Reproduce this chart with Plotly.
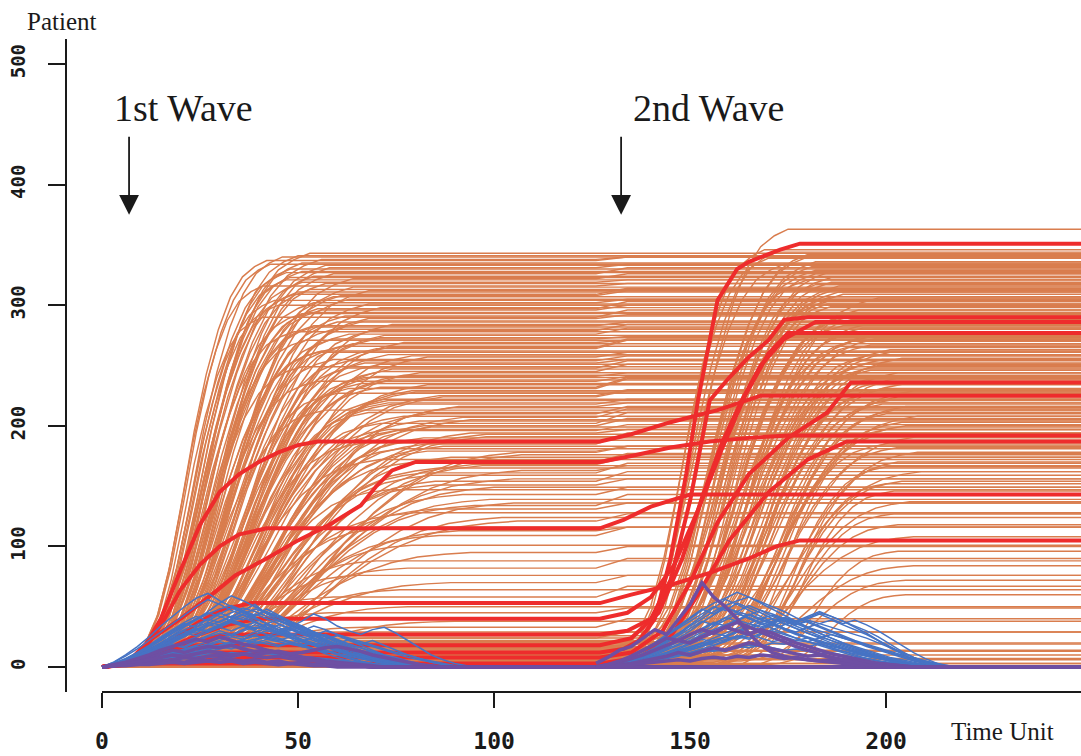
import plotly.graph_objects as go

# ---------------------------------------------------------------- colours
ORANGE = "#D97D4E"
RED = "#EE2C2C"
BLUE = "#4673C4"
PURPLE = "#6E4FA3"
INK = "#1a1a1a"

# shared cumulative rise profile (fraction of final size at evenly spaced steps)
RISE_SHAPE = [0.0, 0.02, 0.06, 0.13, 0.25, 0.41, 0.58, 0.72, 0.83, 0.91, 0.96, 0.985, 1.0]

# ---------------------------------------------------------------- first-wave cumulative runs
W1_PLATEAU = [343, 340, 338, 335, 334, 331, 328, 327, 324, 322, 321, 318, 316, 313, 312, 309, 307, 305, 302, 300,
              298, 296, 293, 291, 290, 287, 284, 283, 280, 278, 276, 273, 271, 269, 266, 264, 262, 259, 257, 255,
              252, 249, 247, 245, 242, 240, 237, 234, 232, 229, 227, 224, 221, 219, 216, 213, 210, 208, 205, 202,
              199, 196, 193, 190, 186, 183, 179, 176, 172, 168, 165, 161, 156, 151, 147, 139, 134, 128, 121, 116,
              109, 101, 95, 88, 82, 76, 70, 64, 58, 50, 45, 38, 33, 29, 24, 20, 16, 13, 10, 8, 6, 4, 3, 2,
              341, 337, 333, 330, 326, 323, 319, 315, 311, 308, 304, 301, 297, 294, 289, 286, 282, 279, 275, 272,
              268, 265, 261, 258, 254, 251, 248, 244, 241, 238, 235, 231, 228, 225, 222, 218, 215, 211, 207, 204,
              200, 197, 194, 191, 188, 185, 181, 178, 174, 170, 167, 163, 159, 154, 149, 143, 136, 131, 124, 113]
W1_START = [5, 6, 4, 7, 5, 8, 6, 5, 7, 9, 6, 8, 5, 7, 10, 6, 8, 9, 7, 6,
            11, 8, 7, 9, 6, 10, 12, 8, 9, 7, 8, 10, 7, 11, 9, 12, 8, 10, 13, 9,
            11, 7, 10, 12, 9, 14, 8, 11, 10, 13, 9, 12, 15, 10, 11, 8, 13, 12, 10, 14,
            11, 13, 10, 15, 12, 9, 14, 16, 11, 13, 12, 17, 10, 14, 15, 13, 18, 12, 16, 11,
            14, 19, 13, 15, 12, 15, 14, 18, 11, 16, 13, 20, 15, 17, 12, 22, 14, 18, 16, 25, 20, 15, 30, 22,
            6, 5, 8, 7, 6, 9, 5, 8, 7, 10, 6, 9, 8, 11, 7, 10, 9, 12, 8, 11,
            10, 13, 9, 12, 11, 8, 14, 10, 13, 9, 12, 15, 11, 10, 14, 12, 16, 13, 11, 15,
            12, 14, 17, 13, 16, 11, 15, 18, 14, 12, 17, 15, 13, 19, 16, 14, 18, 15, 20, 17]
W1_SPAN = [48, 40, 52, 44, 38, 50, 45, 42, 47, 55, 41, 49, 36, 46, 58, 43, 51, 54, 47, 39,
           60, 48, 44, 53, 35, 57, 62, 46, 50, 42, 55, 61, 45, 66, 52, 58, 48, 63, 70, 50,
           56, 44, 64, 59, 68, 53, 47, 72, 61, 66, 51, 75, 58, 63, 80, 49, 70, 65, 84, 57,
           73, 62, 88, 67, 55, 78, 69, 91, 60, 82, 74, 65, 95, 71, 58, 86, 77, 68, 90, 63,
           72, 60, 81, 55, 66, 50, 75, 58, 48, 62, 45, 70, 52, 40, 56, 38, 47, 35, 42, 30, 36, 28, 32, 25,
           44, 37, 49, 41, 53, 39, 46, 56, 43, 51, 38, 59, 47, 42, 61, 50, 45, 57, 64, 48,
           54, 60, 46, 67, 52, 63, 49, 71, 57, 65, 54, 48, 69, 76, 58, 62, 73, 55, 81, 66,
           70, 59, 77, 85, 64, 72, 61, 88, 75, 68, 80, 92, 71, 66, 84, 78, 87, 70, 82, 74]
W1_LIFT = [0, 0, 2, 0, 0, 3, 0, 0, 0, 4, 0, 0, 2, 0, 0, 5, 0, 0, 3, 0,
           0, 4, 0, 0, 6, 0, 0, 3, 0, 0, 5, 0, 0, 2, 0, 7, 0, 0, 4, 0,
           3, 0, 0, 6, 0, 0, 4, 0, 8, 0, 0, 5, 0, 0, 3, 0, 6, 0, 0, 9,
           0, 5, 0, 0, 7, 0, 4, 0, 0, 6, 0, 8, 0, 5, 0, 0, 9, 0, 6, 0,
           7, 0, 5, 0, 8, 0, 6, 0, 9, 0, 4, 0, 7, 0, 5, 0, 3, 0, 4, 2, 0, 3, 0, 1,
           0, 3, 0, 0, 5, 0, 2, 0, 0, 4, 0, 0, 6, 0, 3, 0, 0, 5, 0, 2,
           0, 7, 0, 0, 4, 0, 6, 0, 3, 0, 0, 8, 0, 5, 0, 4, 0, 0, 7, 0,
           6, 0, 3, 0, 0, 9, 0, 5, 0, 7, 0, 4, 0, 8, 0, 6, 0, 5, 0, 3]

# ---------------------------------------------------------------- second-wave cumulative runs
W2_FINAL = [363, 346, 342, 339, 336, 332, 329, 326, 323, 319, 316, 313, 309, 306,
            303, 299, 296, 292, 288, 285, 281, 278, 274, 270, 267, 263, 259, 255,
            252, 248, 244, 239, 235, 231, 227, 222, 218, 213, 208, 203, 197, 191,
            185, 178, 170, 162, 154, 146, 137, 127, 118, 108, 96, 84, 72, 60,
            344, 340, 334, 328, 321, 317, 311, 307, 301, 294, 290, 283, 276, 272, 265,
            261, 256, 250, 246, 241, 236, 229, 224, 216, 210, 200, 194, 182, 166, 152]
W2_BASE = [2, 5, 0, 8, 3, 12, 1, 6, 4, 15, 2, 9, 0, 7,
           18, 3, 5, 11, 1, 4, 22, 6, 2, 9, 14, 0, 5, 3,
           8, 26, 1, 10, 4, 2, 17, 6, 0, 12, 3, 7, 20, 1,
           5, 9, 2, 13, 4, 0, 6, 24, 3, 8, 1, 15, 5, 2,
           4, 0, 7, 2, 10, 1, 5, 13, 0, 3, 8, 19, 2, 6, 0,
           11, 4, 1, 16, 3, 7, 0, 9, 2, 5, 21, 1, 6, 3, 10]
W2_START = [133, 131, 135, 130, 134, 137, 132, 136, 134, 139, 133, 138, 136, 140,
            135, 141, 137, 139, 143, 136, 140, 142, 138, 145, 141, 139, 144, 142,
            140, 146, 143, 148, 141, 145, 150, 144, 147, 152, 146, 149, 155, 148,
            150, 153, 158, 151, 156, 160, 154, 162, 157, 152, 165, 159, 163, 170,
            132, 134, 131, 136, 133, 138, 135, 137, 140, 136, 139, 141, 138, 143, 140,
            144, 142, 146, 141, 145, 148, 143, 150, 147, 152, 149, 155, 151, 158, 160]
W2_SPAN = [42, 38, 45, 40, 48, 44, 50, 46, 52, 47, 55, 49, 53, 58,
           50, 45, 56, 52, 48, 60, 54, 50, 58, 46, 55, 62, 52, 57,
           56, 50, 60, 48, 64, 54, 46, 58, 52, 50, 62, 55, 45, 60,
           50, 55, 45, 58, 48, 42, 52, 40, 46, 55, 38, 48, 42, 35,
           40, 46, 43, 50, 47, 44, 53, 49, 45, 56, 51, 48, 59, 54, 50,
           57, 62, 52, 55, 60, 50, 64, 53, 58, 48, 56, 45, 52, 42, 40]

# ---------------------------------------------------------------- highlighted cumulative runs (knots)
RED_T = [
    [0, 5, 10, 15, 20, 25, 30, 35, 40, 45, 50, 55, 127, 135, 145, 150, 157, 168, 250],
    [0, 6, 12, 20, 28, 34, 42, 50, 58, 66, 70, 74, 80, 127, 135, 145, 155, 165, 175, 250],
    [0, 6, 12, 16, 20, 25, 30, 35, 42, 127, 133, 140, 150, 250],
    [0, 6, 12, 18, 24, 30, 38, 127, 135, 145, 155, 165, 172, 178, 250],
    [0, 8, 15, 25, 127, 133, 137, 141, 145, 149, 152, 157, 162, 165, 173, 178, 250],
    [0, 8, 16, 24, 32, 127, 134, 140, 145, 150, 155, 160, 165, 170, 174, 180, 250],
    [0, 8, 16, 24, 127, 135, 142, 148, 153, 158, 163, 168, 174, 182, 250],
    [0, 8, 16, 24, 32, 40, 127, 134, 140, 146, 152, 158, 164, 170, 175, 250],
    [0, 10, 20, 127, 135, 143, 150, 157, 165, 175, 185, 191, 250],
    [0, 10, 127, 137, 145, 152, 160, 170, 180, 190, 250],
]
RED_V = [
    [0, 2, 12, 40, 80, 118, 145, 160, 170, 178, 184, 187, 187, 193, 203, 207, 213, 225, 225],
    [0, 2, 22, 40, 60, 76, 90, 105, 118, 134, 150, 163, 170, 170, 175, 182, 187, 190, 192, 192],
    [0, 3, 20, 40, 64, 85, 100, 110, 115, 115, 122, 133, 143, 143],
    [0, 2, 10, 22, 36, 47, 53, 53, 60, 68, 78, 90, 100, 105, 105],
    [0, 3, 8, 12, 12, 15, 22, 40, 90, 160, 221, 304, 330, 336, 346, 351, 351],
    [0, 4, 12, 22, 27, 27, 30, 40, 72, 138, 221, 240, 257, 271, 288, 290, 290],
    [0, 4, 12, 18, 18, 24, 45, 90, 140, 185, 220, 250, 272, 286, 286],
    [0, 5, 14, 26, 35, 40, 40, 45, 58, 85, 130, 180, 225, 260, 277, 277],
    [0, 4, 8, 8, 12, 30, 70, 120, 160, 190, 211, 236, 236],
    [0, 3, 3, 8, 25, 60, 105, 145, 172, 187, 187],
]

# ---------------------------------------------------------------- active cases, sampled every 3 time units
STEP = 3
BLUE_W1 = [
    [0, 3, 6, 11, 17, 24, 30, 36, 33, 40, 45, 41, 47, 52, 44, 39, 35, 30, 26, 21, 16, 12, 8, 5, 3, 1, 0],
    [0, 2, 5, 8, 13, 18, 22, 27, 31, 29, 34, 38, 35, 31, 36, 33, 28, 25, 22, 18, 15, 12, 9, 6, 4, 2, 1, 0],
    [0, 1, 3, 6, 9, 13, 17, 21, 25, 29, 33, 30, 34, 37, 33, 29, 31, 27, 24, 20, 17, 14, 11, 13, 9, 6, 4, 2, 1, 0],
    [0, 4, 9, 15, 22, 29, 36, 43, 50, 56, 52, 47, 43, 38, 33, 28, 24, 19, 15, 11, 8, 5, 3, 1, 0],
    [0, 2, 4, 7, 10, 14, 18, 16, 21, 25, 28, 26, 30, 33, 31, 35, 32, 28, 25, 27, 23, 19, 16, 12, 9, 7, 4, 2, 1, 0],
    [0, 3, 7, 12, 18, 25, 31, 37, 42, 38, 44, 49, 45, 40, 36, 31, 33, 28, 23, 19, 15, 11, 8, 5, 3, 1, 0],
    [0, 1, 2, 4, 7, 10, 13, 12, 16, 19, 22, 25, 23, 27, 30, 28, 32, 29, 26, 30, 27, 24, 21, 18, 15, 12, 10, 7, 5, 3, 1, 0],
    [0, 2, 6, 10, 15, 20, 26, 31, 35, 40, 37, 42, 46, 42, 48, 43, 38, 34, 29, 25, 20, 16, 12, 9, 6, 3, 1, 0],
    [0, 1, 3, 5, 8, 11, 9, 12, 15, 18, 21, 19, 23, 26, 24, 22, 25, 21, 18, 15, 17, 14, 11, 8, 6, 4, 2, 1, 0],
    [0, 2, 5, 9, 14, 20, 26, 33, 39, 46, 53, 59, 55, 50, 45, 41, 36, 31, 27, 22, 18, 14, 10, 7, 4, 2, 0],
    [0, 1, 3, 5, 8, 7, 10, 13, 11, 14, 17, 15, 18, 21, 19, 17, 20, 18, 15, 13, 11, 14, 12, 9, 7, 5, 3, 1, 0],
    [0, 3, 6, 10, 14, 19, 24, 28, 33, 37, 35, 39, 36, 32, 35, 30, 27, 23, 20, 17, 13, 10, 7, 5, 3, 2, 1, 0],
    [0, 1, 2, 4, 6, 9, 12, 15, 18, 21, 24, 27, 25, 29, 32, 29, 26, 30, 34, 31, 27, 23, 19, 22, 18, 14, 10, 7, 4, 2, 1, 0],
    [0, 2, 4, 7, 11, 16, 21, 26, 31, 36, 41, 45, 49, 46, 42, 38, 34, 30, 26, 22, 18, 14, 11, 8, 5, 3, 1, 0],
    [0, 1, 2, 3, 5, 7, 9, 11, 10, 13, 15, 17, 16, 19, 21, 18, 20, 17, 15, 12, 14, 11, 9, 7, 5, 3, 2, 1, 0],
    [0, 2, 5, 9, 13, 18, 23, 28, 26, 31, 35, 39, 43, 40, 36, 39, 35, 31, 27, 23, 26, 22, 18, 14, 10, 7, 4, 2, 0],
    [0, 4, 10, 17, 25, 34, 42, 50, 57, 61, 55, 50, 46, 41, 36, 31, 27, 22, 18, 14, 10, 7, 4, 2, 1, 0],
    [0, 1, 2, 3, 4, 6, 8, 7, 9, 11, 10, 12, 11, 13, 12, 10, 11, 9, 8, 7, 6, 5, 4, 3, 2, 1, 0],
    [0, 1, 1, 2, 3, 4, 5, 7, 6, 8, 9, 8, 10, 9, 11, 10, 8, 9, 7, 6, 5, 4, 3, 2, 1, 0],
    [0, 2, 3, 5, 7, 9, 12, 14, 17, 15, 18, 20, 22, 20, 23, 21, 19, 17, 15, 13, 11, 9, 7, 5, 4, 3, 2, 1, 0],
    [0, 2, 5, 9, 14, 19, 25, 30, 28, 34, 38, 42, 39, 44, 40, 36, 32, 34, 29, 25, 21, 17, 13, 10, 7, 4, 2, 1, 0],
    [0, 3, 7, 12, 17, 23, 29, 35, 40, 45, 42, 38, 41, 37, 33, 29, 25, 21, 18, 14, 11, 8, 5, 3, 1, 0],
    [0, 1, 3, 6, 10, 14, 19, 17, 22, 26, 30, 27, 31, 35, 32, 28, 30, 33, 29, 25, 22, 19, 16, 13, 10, 8, 5, 3, 1, 0],
    [0, 2, 4, 8, 12, 17, 22, 27, 32, 30, 35, 40, 44, 48, 45, 41, 37, 33, 29, 26, 22, 18, 14, 11, 8, 5, 3, 1, 0],
    [0, 1, 2, 4, 6, 8, 11, 14, 12, 15, 18, 21, 19, 22, 25, 23, 20, 22, 19, 16, 14, 12, 10, 8, 6, 4, 2, 1, 0],
    [0, 2, 6, 11, 16, 22, 28, 34, 39, 44, 48, 51, 47, 43, 46, 42, 37, 32, 28, 23, 19, 15, 11, 8, 5, 3, 1, 0],
    [0, 1, 2, 3, 5, 7, 10, 13, 16, 19, 17, 20, 23, 26, 24, 27, 25, 22, 24, 21, 19, 23, 20, 17, 14, 11, 8, 6, 4, 2, 1, 0],
    [0, 2, 4, 7, 11, 15, 20, 25, 30, 35, 33, 37, 34, 30, 27, 24, 21, 18, 20, 17, 14, 11, 9, 7, 5, 3, 2, 1, 0],
    [0, 1, 2, 3, 5, 7, 9, 11, 13, 15, 17, 19, 21, 23, 26, 29, 33, 38, 44, 40, 34, 30, 27, 31, 33, 28, 22, 16, 10, 6, 3, 1, 0],
]
BLUE_W2_T0 = 126
BLUE_W2 = [
    [0, 1, 3, 6, 10, 15, 21, 27, 34, 40, 46, 51, 55, 58, 54, 50, 46, 41, 37, 33, 29, 25, 21, 17, 14, 11, 8, 5, 3, 1, 0],
    [0, 2, 4, 8, 13, 19, 26, 33, 40, 47, 53, 57, 62, 58, 53, 48, 43, 38, 33, 28, 24, 20, 16, 12, 9, 6, 4, 2, 1, 0],
    [0, 1, 2, 4, 7, 10, 14, 18, 22, 27, 31, 35, 39, 36, 40, 43, 39, 35, 38, 34, 30, 26, 22, 19, 16, 13, 10, 7, 5, 3, 1, 0],
    [0, 1, 2, 3, 5, 7, 9, 12, 15, 18, 22, 25, 29, 32, 35, 38, 41, 37, 40, 44, 40, 36, 39, 35, 30, 24, 18, 12, 7, 3, 0],
    [0, 1, 2, 3, 5, 7, 10, 13, 16, 20, 24, 28, 32, 36, 33, 37, 41, 38, 42, 46, 42, 38, 34, 30, 25, 19, 13, 8, 4, 1, 0],
    [0, 2, 5, 9, 14, 20, 27, 34, 41, 48, 44, 50, 45, 40, 36, 32, 28, 24, 21, 18, 15, 12, 9, 7, 5, 3, 2, 1, 0],
    [0, 1, 2, 4, 6, 9, 12, 15, 19, 23, 21, 25, 29, 27, 31, 28, 25, 22, 24, 21, 18, 15, 12, 10, 8, 6, 4, 2, 1, 0],
    [0, 1, 3, 5, 8, 12, 16, 21, 26, 31, 36, 41, 38, 43, 47, 44, 40, 36, 32, 28, 24, 20, 17, 14, 11, 8, 6, 4, 2, 1, 0],
    [0, 1, 2, 3, 4, 6, 8, 10, 9, 12, 14, 13, 16, 18, 17, 20, 19, 22, 21, 19, 17, 15, 13, 11, 9, 7, 5, 3, 2, 1, 0],
    [0, 2, 4, 7, 11, 16, 22, 28, 35, 42, 49, 56, 52, 47, 42, 37, 32, 28, 24, 20, 16, 13, 10, 7, 5, 3, 1, 0],
    [0, 1, 2, 3, 5, 7, 9, 11, 14, 17, 20, 23, 26, 24, 28, 31, 35, 38, 41, 45, 42, 38, 33, 28, 22, 16, 11, 6, 3, 1, 0],
    [0, 1, 2, 4, 6, 8, 11, 14, 17, 20, 18, 22, 25, 23, 27, 30, 27, 24, 21, 24, 27, 24, 21, 18, 15, 12, 9, 6, 4, 2, 1, 0],
    [0, 1, 3, 6, 9, 13, 17, 22, 27, 32, 37, 34, 39, 44, 40, 36, 32, 28, 25, 22, 19, 16, 13, 10, 8, 6, 4, 2, 1, 0],
    [0, 1, 2, 3, 5, 6, 8, 10, 12, 14, 13, 15, 17, 16, 18, 16, 14, 15, 13, 11, 12, 10, 8, 7, 5, 4, 3, 2, 1, 0],
    [0, 1, 3, 5, 9, 13, 18, 24, 30, 37, 43, 49, 46, 51, 47, 42, 38, 34, 30, 26, 22, 18, 15, 12, 9, 6, 4, 2, 1, 0],
    [0, 2, 4, 7, 11, 15, 20, 26, 32, 38, 35, 41, 46, 43, 39, 35, 31, 27, 24, 21, 18, 15, 12, 9, 7, 5, 3, 1, 0],
    [0, 1, 2, 4, 6, 9, 12, 16, 20, 24, 28, 26, 30, 34, 31, 35, 32, 29, 33, 30, 27, 24, 21, 18, 15, 12, 9, 6, 3, 1, 0],
    [0, 1, 2, 3, 4, 6, 8, 11, 14, 17, 21, 25, 29, 33, 37, 34, 38, 35, 39, 36, 33, 30, 27, 24, 20, 16, 12, 8, 5, 2, 0],
    [0, 2, 5, 9, 14, 20, 26, 32, 38, 44, 50, 47, 53, 49, 45, 40, 36, 32, 28, 24, 20, 17, 14, 11, 8, 5, 3, 1, 0],
    [0, 1, 2, 4, 6, 8, 10, 13, 16, 19, 22, 25, 23, 27, 24, 21, 23, 20, 17, 19, 16, 13, 11, 9, 7, 5, 3, 2, 1, 0],
    [0, 1, 3, 5, 8, 11, 15, 19, 24, 29, 34, 39, 44, 41, 37, 40, 36, 32, 28, 25, 22, 19, 16, 13, 10, 7, 5, 3, 1, 0],
    [0, 1, 1, 2, 3, 5, 7, 9, 12, 15, 18, 21, 25, 28, 32, 36, 40, 37, 33, 36, 39, 35, 31, 27, 22, 17, 12, 8, 4, 2, 0],
]
PURPLE_W1 = [
    [0, 1, 3, 5, 8, 11, 14, 12, 15, 17, 16, 18, 15, 13, 14, 12, 10, 8, 7, 5, 4, 3, 2, 1, 0],
    [0, 2, 4, 7, 10, 14, 17, 20, 23, 21, 25, 22, 19, 17, 14, 12, 10, 8, 6, 4, 3, 2, 1, 0],
    [0, 1, 2, 3, 4, 5, 6, 8, 7, 9, 10, 9, 11, 10, 12, 13, 11, 12, 14, 16, 17, 15, 13, 10, 8, 6, 4, 2, 1, 0],
    [0, 1, 2, 2, 3, 4, 5, 4, 6, 5, 7, 6, 5, 6, 4, 5, 3, 4, 2, 3, 1, 2, 1, 0],
    [0, 1, 3, 4, 6, 8, 10, 9, 11, 13, 12, 10, 11, 9, 8, 9, 7, 6, 5, 4, 3, 2, 1, 0],
    [0, 1, 1, 2, 2, 3, 4, 3, 4, 5, 4, 5, 3, 4, 3, 2, 3, 2, 1, 1, 0],
]
PURPLE_W2 = [
    [3, 8, 14, 17, 24, 31, 27, 39, 52, 70, 58, 50, 40, 28, 18, 12, 9, 7, 6, 5, 6, 4, 3, 2, 0],
    [0, 2, 4, 7, 10, 14, 18, 22, 20, 25, 29, 33, 30, 27, 31, 28, 24, 20, 17, 14, 11, 9, 7, 5, 3, 2, 1, 0],
    [0, 1, 2, 3, 5, 7, 9, 12, 10, 13, 16, 14, 17, 20, 18, 15, 13, 11, 9, 10, 8, 6, 5, 4, 3, 2, 1, 0],
    [0, 1, 1, 2, 3, 4, 5, 6, 5, 7, 8, 7, 9, 8, 10, 9, 7, 8, 6, 5, 4, 3, 2, 1, 0],
    [0, 2, 5, 9, 14, 19, 24, 22, 27, 31, 28, 33, 37, 33, 29, 25, 21, 17, 14, 11, 8, 6, 4, 2, 1, 0],
]

T_END = 250
X_TICKS = [0, 50, 100, 150, 200]
Y_TICKS = [0, 100, 200, 300, 400, 500]


def rise(t0, span, lo, hi):
    n = len(RISE_SHAPE) - 1
    ts = [t0 + span * i / n for i in range(n + 1)]
    vs = [lo + (hi - lo) * f for f in RISE_SHAPE]
    return ts, vs


def bundle(paths):
    xs, ys = [], []
    for tx, vy in paths:
        xs += list(tx) + [None]
        ys += list(vy) + [None]
    return xs, ys


orange_paths = []
for p, t0, sp, lift in zip(W1_PLATEAU, W1_START, W1_SPAN, W1_LIFT):
    ts, vs = rise(t0, sp, 0, p)
    ts = [0] + ts + [126, 130, 134, T_END]
    vs = [0] + vs + [p, p + lift * 0.5, p + lift, p + lift]
    orange_paths.append((ts, vs))
for fin, base, t0, sp in zip(W2_FINAL, W2_BASE, W2_START, W2_SPAN):
    ta, va = rise(6, 36, 0, base)
    tb, vb = rise(t0, sp, base, fin)
    orange_paths.append(([0] + ta + tb + [T_END], [0] + va + vb + [fin]))

red_paths = list(zip(RED_T, RED_V))


def active(series_list, t0):
    out = []
    for s in series_list:
        ts = [t0 + STEP * i for i in range(len(s))]
        out.append((ts + [T_END], list(s) + [0]))
    return out


blue_paths = active(BLUE_W1, 0) + active(BLUE_W2, BLUE_W2_T0)
purple_paths = active(PURPLE_W1, 0) + active(PURPLE_W2, BLUE_W2_T0)

fig = go.Figure()
for paths, color, width in [(orange_paths, ORANGE, 1.45), (red_paths, RED, 4.0),
                            (blue_paths, BLUE, 1.5), (purple_paths, PURPLE, 3.5)]:
    bx, by = bundle(paths)
    fig.add_trace(go.Scatter(x=bx, y=by, mode="lines", line=dict(color=color, width=width),
                             hoverinfo="skip", showlegend=False))

W, H = 1081, 756
ML, MR, MT, MB = 67, 0, 39, 64

mono = dict(family="DejaVu Sans Mono", color=INK, weight="bold")
serif = "Liberation Serif, Times New Roman, serif"

fig.update_layout(
    width=W, height=H,
    margin=dict(l=ML, r=MR, t=MT, b=MB),
    paper_bgcolor="white", plot_bgcolor="white",
    showlegend=False,
    xaxis=dict(range=[-8.93, 249.7], tickvals=X_TICKS, ticktext=[str(v) for v in X_TICKS],
               ticks="outside", ticklen=15, tickwidth=2, tickcolor=INK,
               showline=False, showgrid=False, zeroline=False,
               tickfont=dict(size=23, **mono), ticklabelstandoff=13),
    yaxis=dict(range=[-20.7, 520.7], tickvals=Y_TICKS, ticktext=[str(v) for v in Y_TICKS],
               ticks="outside", ticklen=17, tickwidth=2, tickcolor=INK,
               showline=True, linewidth=2, linecolor=INK,
               showgrid=False, zeroline=False, tickangle=-90,
               tickfont=dict(size=19, **mono), ticklabelstandoff=15),
)

# bottom axis line spans only the time range
fig.add_shape(type="line", xref="x", yref="paper", x0=0, x1=T_END, y0=0, y1=0,
              line=dict(color=INK, width=2))


def px_x(p):
    return (p - ML) / (W - ML - MR)


def px_y(p):
    return (H - MB - p) / (H - MT - MB)


fig.add_annotation(text="Patient", xref="paper", yref="paper", x=px_x(61), y=px_y(22),
                   xanchor="center", yanchor="middle",
                   showarrow=False, font=dict(family=serif, size=25, color=INK))
fig.add_annotation(text="Time Unit", xref="paper", yref="paper", x=px_x(1002), y=px_y(731),
                   xanchor="center", yanchor="middle",
                   showarrow=False, font=dict(family=serif, size=25, color=INK))

for label, tx, tc in [("1st Wave", 20.9, 6.9), ("2nd Wave", 154.6, 132.4)]:
    fig.add_annotation(text=label, x=tx, y=463.5, xref="x", yref="y", showarrow=False,
                       xanchor="center", yanchor="middle",
                       font=dict(family=serif, size=38, color=INK))
    fig.add_annotation(text="", x=tc, y=375, ax=tc, ay=441, xref="x", yref="y",
                       axref="x", ayref="y", showarrow=True, arrowhead=2,
                       arrowsize=2.2, arrowwidth=1.8, arrowcolor=INK)

fig.write_html("out.html")
